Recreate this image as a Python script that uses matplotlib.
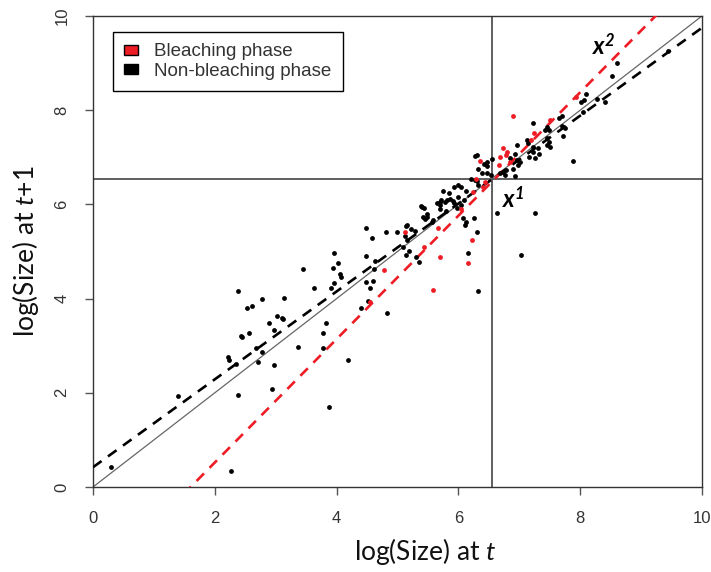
import matplotlib
matplotlib.use("Agg")
import matplotlib.pyplot as plt
from matplotlib.patches import Patch

plt.rcParams['mathtext.fontset'] = 'custom'
plt.rcParams['mathtext.rm'] = 'Lato'
plt.rcParams['mathtext.it'] = 'Lato:italic'
plt.rcParams['mathtext.bfit'] = 'Lato:bold:italic'

# Bleaching-phase observations (log size at t, log size at t+1)
bleach_x = [5.13, 4.78, 4.55, 5.67, 5.70, 6.16, 6.23, 5.43, 5.58, 6.04, 6.24, 6.29,
            6.44, 6.41, 6.35, 6.68, 6.66, 6.80, 6.74, 6.79, 6.90, 7.24, 7.50, 7.93,
            6.85, 7.20]
bleach_y = [5.41, 4.61, 3.93, 5.49, 4.88, 4.75, 5.24, 5.10, 4.18, 5.90, 6.27, 6.55,
            6.47, 6.38, 6.93, 7.00, 6.84, 7.12, 7.19, 7.05, 7.88, 7.51, 7.79, 8.29,
            6.91, 7.37]

# Non-bleaching-phase observations
nonbleach_x = [
    0.30, 1.40, 2.27, 2.38, 2.38, 2.43, 2.45, 2.53, 2.61, 2.56, 2.22, 2.23, 2.35,
    2.68, 2.78, 2.71, 2.78, 3.14, 2.89, 3.02, 3.10, 3.12, 2.97, 2.97, 2.94, 3.37,
    4.48, 4.81, 4.99, 5.14, 5.16, 5.22, 5.29, 4.58, 3.95, 4.48, 4.63, 4.03, 3.94,
    3.45, 4.06, 4.08, 4.61, 5.19, 5.14, 5.31, 5.36, 4.49, 4.59, 3.96, 3.91, 3.63,
    4.55, 4.51, 4.40, 4.82, 3.82, 3.77, 3.77, 4.18, 3.88,
    6.27, 6.42, 6.47, 6.47, 6.33, 6.38, 6.21, 6.27, 6.31, 6.47, 6.53, 6.33, 6.00,
    6.04, 5.92, 5.75, 5.85, 5.70, 5.72, 5.78, 5.81, 5.86, 5.91, 5.92, 6.00, 5.65,
    5.69, 5.38, 5.41, 5.43, 6.04, 5.97, 5.48, 5.49, 5.42, 5.45, 5.56, 5.59, 5.70,
    5.79, 6.08, 6.12, 6.11, 6.26, 6.31, 6.63, 6.16, 5.16, 5.12, 5.09, 6.10, 6.13,
    6.55, 6.32, 7.03, 6.30,
    8.60, 8.52, 8.10, 8.06, 8.02, 8.27, 8.04, 7.70, 7.66, 7.23, 7.45, 7.42, 7.49,
    7.70, 7.75, 7.72, 7.45, 7.48, 7.45, 7.50, 7.12, 7.15, 6.96, 7.22, 7.23, 7.30,
    7.33, 7.26, 7.16, 6.85, 6.93, 6.97, 7.01, 6.98, 6.90, 6.93, 6.79, 6.74, 6.69,
    7.88, 7.26, 9.45, 8.40, 6.77,
]
nonbleach_y = [
    0.42, 1.93, 0.34, 1.95, 4.16, 3.21, 3.18, 3.80, 3.84, 3.27, 2.76, 2.70, 2.61,
    2.95, 2.87, 2.65, 3.99, 4.01, 3.48, 3.63, 3.59, 3.56, 3.33, 2.59, 2.08, 2.97,
    5.49, 5.42, 5.42, 5.54, 5.57, 5.47, 5.44, 5.29, 4.96, 4.91, 4.80, 4.76, 4.66,
    4.62, 4.52, 4.46, 4.62, 5.02, 4.93, 4.88, 4.78, 4.36, 4.38, 4.34, 4.23, 4.22,
    4.22, 3.95, 3.81, 3.69, 3.49, 3.26, 2.96, 2.70, 1.70,
    7.03, 6.85, 6.89, 6.82, 6.75, 6.66, 6.53, 6.52, 6.50, 6.66, 6.62, 6.41, 6.41,
    6.38, 6.36, 6.29, 6.24, 6.06, 6.09, 6.06, 6.09, 6.11, 6.07, 6.02, 6.16, 6.02,
    5.99, 5.97, 5.94, 5.92, 5.99, 5.92, 5.79, 5.74, 5.74, 5.70, 5.63, 5.67, 5.90,
    5.85, 5.72, 5.63, 5.56, 5.72, 5.42, 5.81, 4.96, 5.24, 5.33, 5.09, 6.09, 6.29,
    6.96, 4.16, 4.92, 7.05,
    9.00, 8.73, 8.34, 8.22, 8.18, 8.23, 7.97, 7.88, 7.83, 7.73, 7.65, 7.59, 7.58,
    7.66, 7.62, 7.45, 7.40, 7.33, 7.26, 7.21, 7.37, 7.30, 7.26, 7.21, 7.12, 7.19,
    7.08, 6.98, 7.01, 6.98, 7.07, 6.94, 6.91, 6.84, 6.75, 6.60, 6.73, 6.69, 6.66,
    6.92, 5.82, 9.25, 8.18, 6.62,
]

# Fitted regressions (intercept, slope) and the size threshold x1
bleach_fit = (-2.10, 1.31)
nonbleach_fit = (0.42, 0.933)
threshold = 6.55

ticks = [0, 2, 4, 6, 8, 10]

fig = plt.figure(figsize=(7.11, 5.72), dpi=100)
ax = fig.add_axes([0.1308, 0.1486, 0.8565, 0.8234])
ax.set_xlim(0, 10)
ax.set_ylim(0, 10)

# Threshold cross-hair and 1:1 line
ax.axvline(threshold, color='#444444', lw=1.2, zorder=1)
ax.axhline(threshold, color='#444444', lw=1.2, zorder=1)
ax.plot([0, 10], [0, 10], color='#666666', lw=0.9, zorder=2)

xs = [0, 10]
ax.plot(xs, [nonbleach_fit[0] + nonbleach_fit[1] * v for v in xs],
        color='black', lw=1.9, dashes=(4, 3), zorder=3)
ax.plot(xs, [bleach_fit[0] + bleach_fit[1] * v for v in xs],
        color='#ee1c25', lw=1.9, dashes=(4, 3), zorder=3)

ax.scatter(nonbleach_x, nonbleach_y, s=12, color='black', lw=0, zorder=4)
ax.scatter(bleach_x, bleach_y, s=12, color='#ee1c25', lw=0, zorder=5)

ax.set_xticks(ticks)
ax.set_yticks(ticks)
ax.tick_params(direction='out', length=6, width=1, color='#555555',
               labelsize=12, labelcolor='#333333', pad=11,
               labelfontfamily='Liberation Sans')
for lab in ax.get_yticklabels():
    lab.set_rotation(90)
    lab.set_va('center')
for sp in ax.spines.values():
    sp.set_color('#333333')
    sp.set_linewidth(1)

ax.set_xlabel(r'log(Size) at $\mathit{t}$', fontsize=19, family='Lato',
              color='#111111')
ax.set_ylabel(r'log(Size) at $\mathit{t{+}1}$', fontsize=19, family='Lato',
              color='#111111')
ax.xaxis.set_label_coords(0.545, -0.105)
ax.yaxis.set_label_coords(-0.085, 0.5)

ax.text(6.72, 6.1, r'$\mathbfit{x}^{\mathbfit{1}}$', fontsize=17, ha='left', va='center')
ax.text(8.2, 9.34, r'$\mathbfit{x}^{\mathbfit{2}}$', fontsize=17, ha='left', va='center')

handles = [Patch(facecolor='#ee1c25', edgecolor='black', lw=1, label='Bleaching phase'),
           Patch(facecolor='black', edgecolor='black', lw=1, label='Non-bleaching phase')]
leg = ax.legend(handles=handles, loc='upper left', bbox_to_anchor=(0.033, 0.966),
                frameon=True, fancybox=False, edgecolor='black', framealpha=1,
                prop={'family': 'Liberation Sans', 'size': 13.5},
                handlelength=0.75, handleheight=0.45, handletextpad=0.85,
                borderpad=0.6, labelspacing=0.15, borderaxespad=0)
leg.get_frame().set_linewidth(1)
for t in leg.get_texts():
    t.set_color('#333333')

fig.savefig('out.png', dpi=100)
